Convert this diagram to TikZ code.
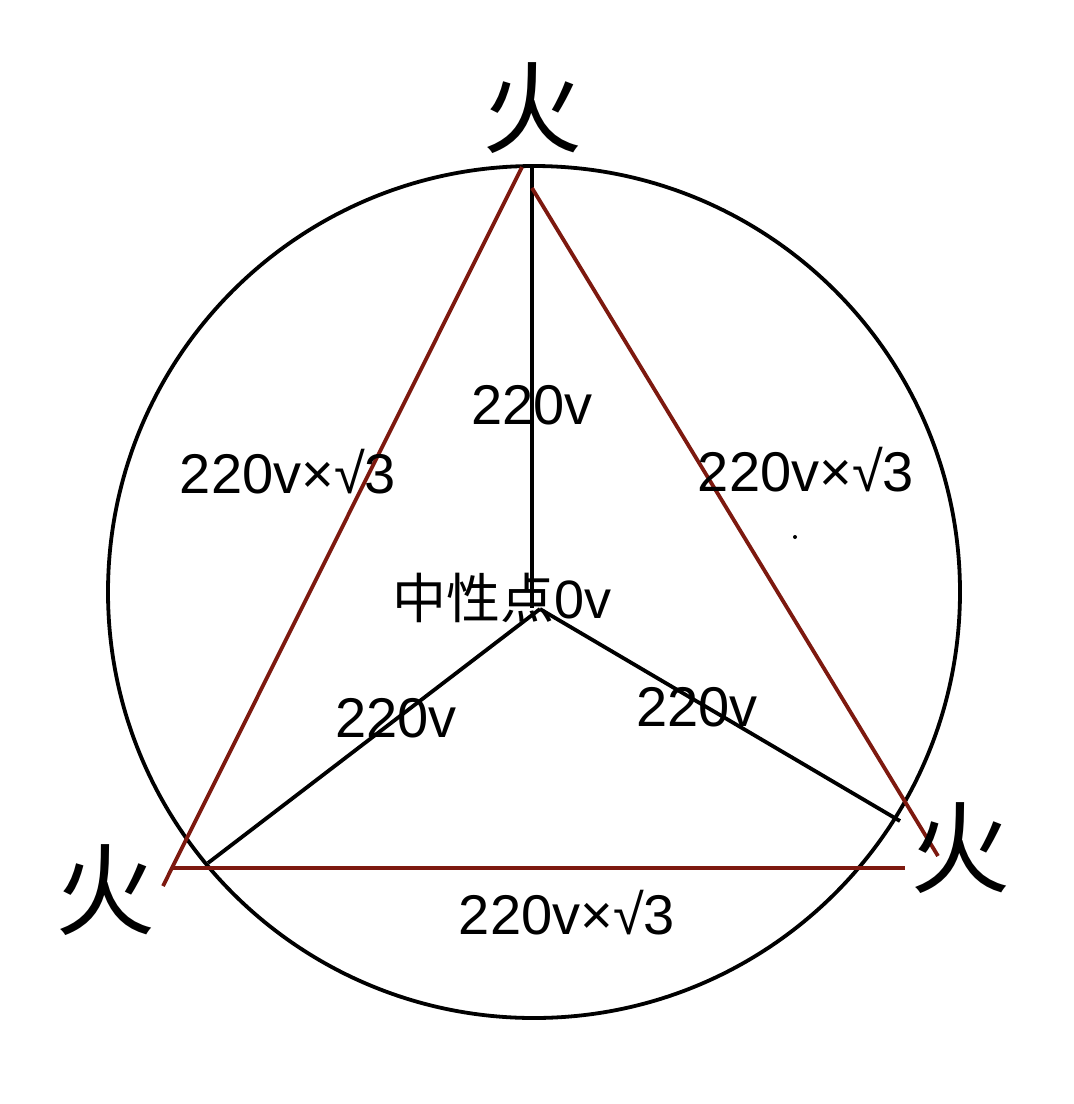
\documentclass[tikz,border=0pt]{standalone}
\usepackage{fontspec}
\setmainfont{Liberation Sans}
\newfontfamily\cjk{Noto Sans CJK SC}
\definecolor{redline}{RGB}{125,25,15}
\begin{document}
\begin{tikzpicture}[x=0.5pt,y=-0.5pt,
  blk/.style={line width=1.9pt, draw=black},
  redl/.style={line width=1.9pt, draw=redline},
  lbl/.style={font=\fontsize{28}{30}\selectfont, inner sep=0pt},
  mix/.style={font=\cjk\fontsize{27}{30}\selectfont, inner sep=0pt},
  fire/.style={font=\cjk\fontsize{50}{52}\selectfont, inner sep=0pt}]
\fill[white] (0,0) rectangle (1073,1104);
\useasboundingbox (0,0) rectangle (1073,1104);
% outer circle
\node[blk, circle, minimum size=426pt, inner sep=0pt] (circ) at (534,592) {};
% coordinates
\coordinate (top) at (532,167);
\coordinate (ctop) at (532,608);
\coordinate (O) at (540,609);
\coordinate (bl) at (208,863);
\coordinate (br) at (900,821);
\coordinate (rt1) at (522,167);
\coordinate (rbl1) at (163,886);
\coordinate (rt2) at (532,188);
\coordinate (rbr2) at (938,856);
\coordinate (rb1) at (173,868);
\coordinate (rb2) at (905,868);
% spokes
\draw[blk] (top) -- (ctop);
\draw[blk] (O) -- (bl);
\draw[blk] (O) -- (br);
% red triangle
\draw[redl] (rt1) -- (rbl1);
\draw[redl] (rt2) -- (rbr2);
\draw[redl] (rb1) -- (rb2);
% stray dot
\fill (795,537) circle (2);
% labels
\node[fire] (f1) at (532,108) {火};
\node[fire] (f2) at (105,890) {火};
\node[fire] (f3) at (960,848) {火};
\node[lbl] (v1) at (532,405) {220v};
\node[lbl] (v2) at (396,718) {220v};
\node[lbl] (v3) at (697,707) {220v};
\node[lbl] (s1) at (288,472) {220v×√3};
\node[lbl] (s2) at (806,470) {220v×√3};
\node[lbl] (s3) at (567,913) {220v×√3};
\node[mix] (n0) at (502,598) {中性点\fontspec{Liberation Sans}0v};
\end{tikzpicture}
\end{document}
